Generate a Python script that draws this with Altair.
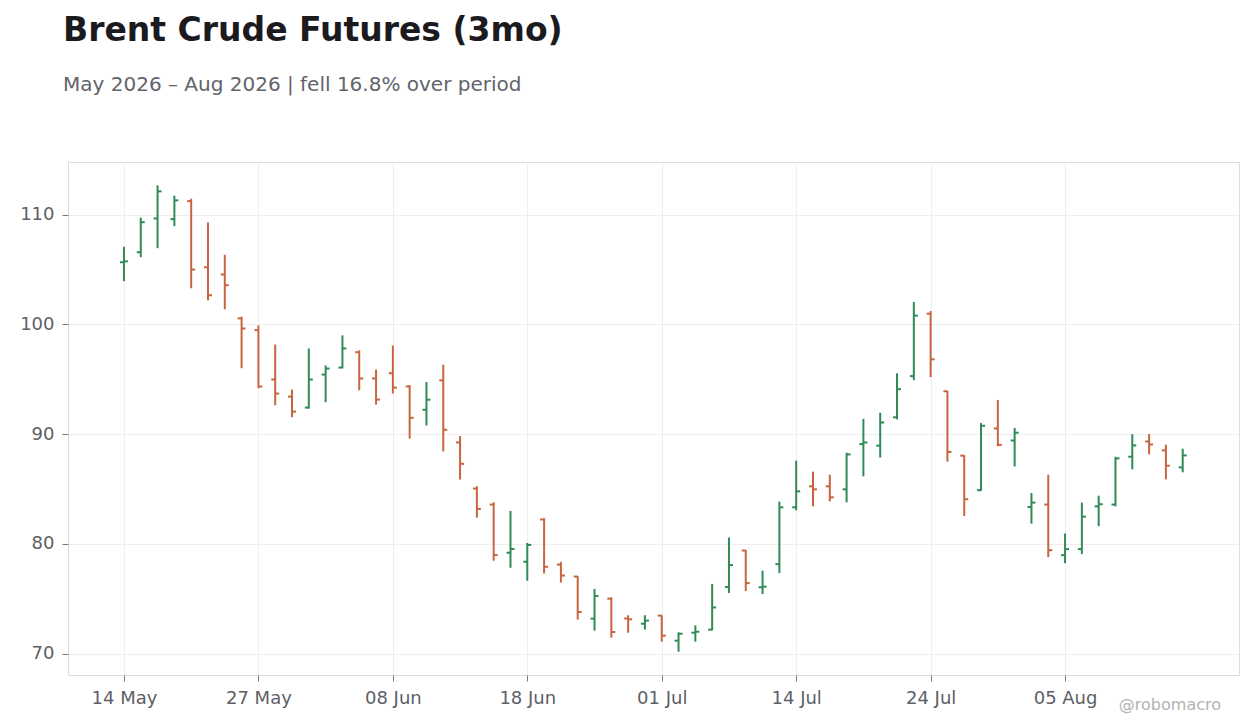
#%%
import pandas as pd
import altair as alt

#%%
# Daily OHLC bars (business days, 14 May - 14 Aug 2026)
opens = [105.67, 106.58, 109.66, 109.60, 111.24, 105.21, 104.55, 100.55, 99.48, 94.98,
         93.42, 92.42, 95.43, 96.07, 97.47, 95.07, 95.55, 94.35, 92.22, 94.90,
         89.24, 85.04, 83.58, 79.19, 78.37, 82.22, 78.11, 77.02, 73.18, 75.00,
         73.20, 72.72, 73.46, 71.17, 71.90, 72.18, 76.06, 79.39, 76.04, 78.15,
         83.33, 85.24, 85.24, 84.97, 89.09, 88.95, 91.53, 95.29, 100.98, 93.91,
         88.04, 84.89, 90.52, 89.42, 83.36, 83.58, 78.97, 79.52, 83.42, 83.58,
         87.94, 89.33, 88.52, 86.97]
highs = [107.08, 109.73, 112.68, 111.74, 111.46, 109.30, 106.35, 100.70, 99.91, 98.17,
         94.06, 97.81, 96.26, 99.00, 97.63, 95.89, 98.08, 94.47, 94.75, 96.33,
         89.82, 85.25, 83.79, 83.00, 80.08, 82.34, 78.36, 77.05, 75.89, 75.13,
         73.49, 73.49, 73.49, 71.93, 72.57, 76.35, 80.58, 79.45, 77.55, 83.85,
         87.58, 86.58, 86.30, 88.30, 91.39, 91.95, 95.54, 102.05, 101.22, 93.94,
         88.07, 91.01, 93.12, 90.57, 84.63, 86.30, 80.94, 83.76, 84.39, 87.94,
         90.00, 90.00, 89.03, 88.67]
lows = [103.94, 106.13, 106.95, 108.96, 103.30, 102.20, 101.38, 96.01, 94.19, 92.63,
        91.54, 92.33, 92.91, 96.00, 94.00, 92.69, 93.70, 89.60, 90.79, 88.42,
        85.86, 82.39, 78.46, 77.82, 76.64, 77.29, 76.47, 73.09, 72.09, 71.45,
        71.90, 72.18, 71.08, 70.17, 71.08, 72.12, 75.52, 75.70, 75.42, 77.33,
        83.06, 83.42, 83.88, 83.79, 86.15, 87.87, 91.35, 94.92, 95.20, 87.49,
        82.54, 84.83, 88.90, 87.05, 81.84, 78.79, 78.24, 79.06, 81.61, 83.42,
        86.79, 88.15, 85.88, 86.52]
closes = [105.75, 109.32, 112.13, 111.31, 105.00, 102.66, 103.57, 99.63, 94.34, 93.70,
          92.05, 94.98, 95.98, 97.81, 95.07, 93.15, 94.24, 91.49, 93.14, 90.40,
          87.29, 83.18, 78.98, 79.53, 79.90, 77.91, 77.11, 73.79, 75.25, 71.96,
          73.12, 73.00, 71.63, 71.81, 71.99, 74.20, 78.06, 76.42, 76.10, 83.33,
          84.79, 84.97, 84.24, 88.15, 89.24, 91.06, 94.10, 100.80, 96.82, 88.38,
          84.07, 90.76, 89.02, 90.13, 83.76, 79.42, 79.52, 82.48, 83.61, 87.79,
          88.97, 89.06, 87.12, 88.06]

# every 8th trading day gets a label
tick_idx = [0, 8, 16, 24, 32, 40, 48, 56]
tick_labels = ['14 May', '27 May', '08 Jun', '18 Jun', '01 Jul', '14 Jul', '24 Jul', '05 Aug']

#%%
bars = pd.DataFrame({
    'i': range(len(opens)),
    'open': opens,
    'high': highs,
    'low': lows,
    'close': closes,
})
bars['dir'] = ['up' if c >= o else 'down' for o, c in zip(opens, closes)]

# 5% padding above and below the price range
lo, hi = min(lows), max(highs)
pad = (hi - lo) * 0.05

GREEN = '#2e8b57'
RED = '#c9643f'
FONT = 'DejaVu Sans'

label_expr = '[' + ','.join("'" + t + "'" for t in tick_labels) + '][datum.value / 8]'

x_enc = alt.X('i:Q',
    scale=alt.Scale(domain=[-3.33, len(opens) + 2.35], nice=False, zero=False),
    axis=alt.Axis(values=tick_idx, labelExpr=label_expr, title=None))
y_enc = alt.Y('low:Q',
    scale=alt.Scale(domain=[lo - pad, hi + pad], nice=False, zero=False),
    axis=alt.Axis(values=[70, 80, 90, 100, 110], title=None))
col = alt.Color('dir:N', scale=alt.Scale(domain=['up', 'down'], range=[GREEN, RED]), legend=None)

base = alt.Chart(bars)

#%%
# high-low line, open tick to the left, close tick to the right
hl = base.mark_rule(strokeWidth=2).encode(x=x_enc, y=y_enc, y2='high:Q', color=col)
op = base.mark_rule(strokeWidth=2, x2Offset=-4).encode(x='i:Q', x2='i:Q', y='open:Q', color=col)
cl = base.mark_rule(strokeWidth=2, x2Offset=4).encode(x='i:Q', x2='i:Q', y='close:Q', color=col)

mark = (alt.Chart(pd.DataFrame({'t': ['@robomacro']}))
    .mark_text(align='right', baseline='alphabetic', font=FONT, fontSize=16, color='#b3b3b3')
    .encode(text='t:N', x=alt.value(1153), y=alt.value(548)))

#%%
chart = (alt.layer(hl, op, cl, mark)
    .properties(
        width=1171, height=513,
        autosize=alt.AutoSizeParams(type='none'),
        padding={'left': 60, 'top': 154, 'right': 13, 'bottom': 53},
        title=alt.TitleParams(
            text='Brent Crude Futures (3mo)',
            subtitle='May 2026 – Aug 2026 | fell 16.8% over period',
            anchor='start', frame='group', dx=-5, offset=67,
            font=FONT, fontSize=33, fontWeight='bold', color='#1b1b1f',
            subtitleFont=FONT, subtitleFontSize=20, subtitleColor='#62646c',
            subtitlePadding=27))
    .configure(background='white')
    .configure_view(stroke='#dddddd', strokeWidth=1)
    .configure_axis(
        domain=False, grid=True, gridColor='#eeeeee', gridWidth=1,
        tickColor='#777777', tickSize=6,
        labelFont=FONT, labelFontSize=18, labelColor='#5c5f66', labelPadding=8))

chart.save("out.html", embed_options={"renderer": "svg", "actions": False})
